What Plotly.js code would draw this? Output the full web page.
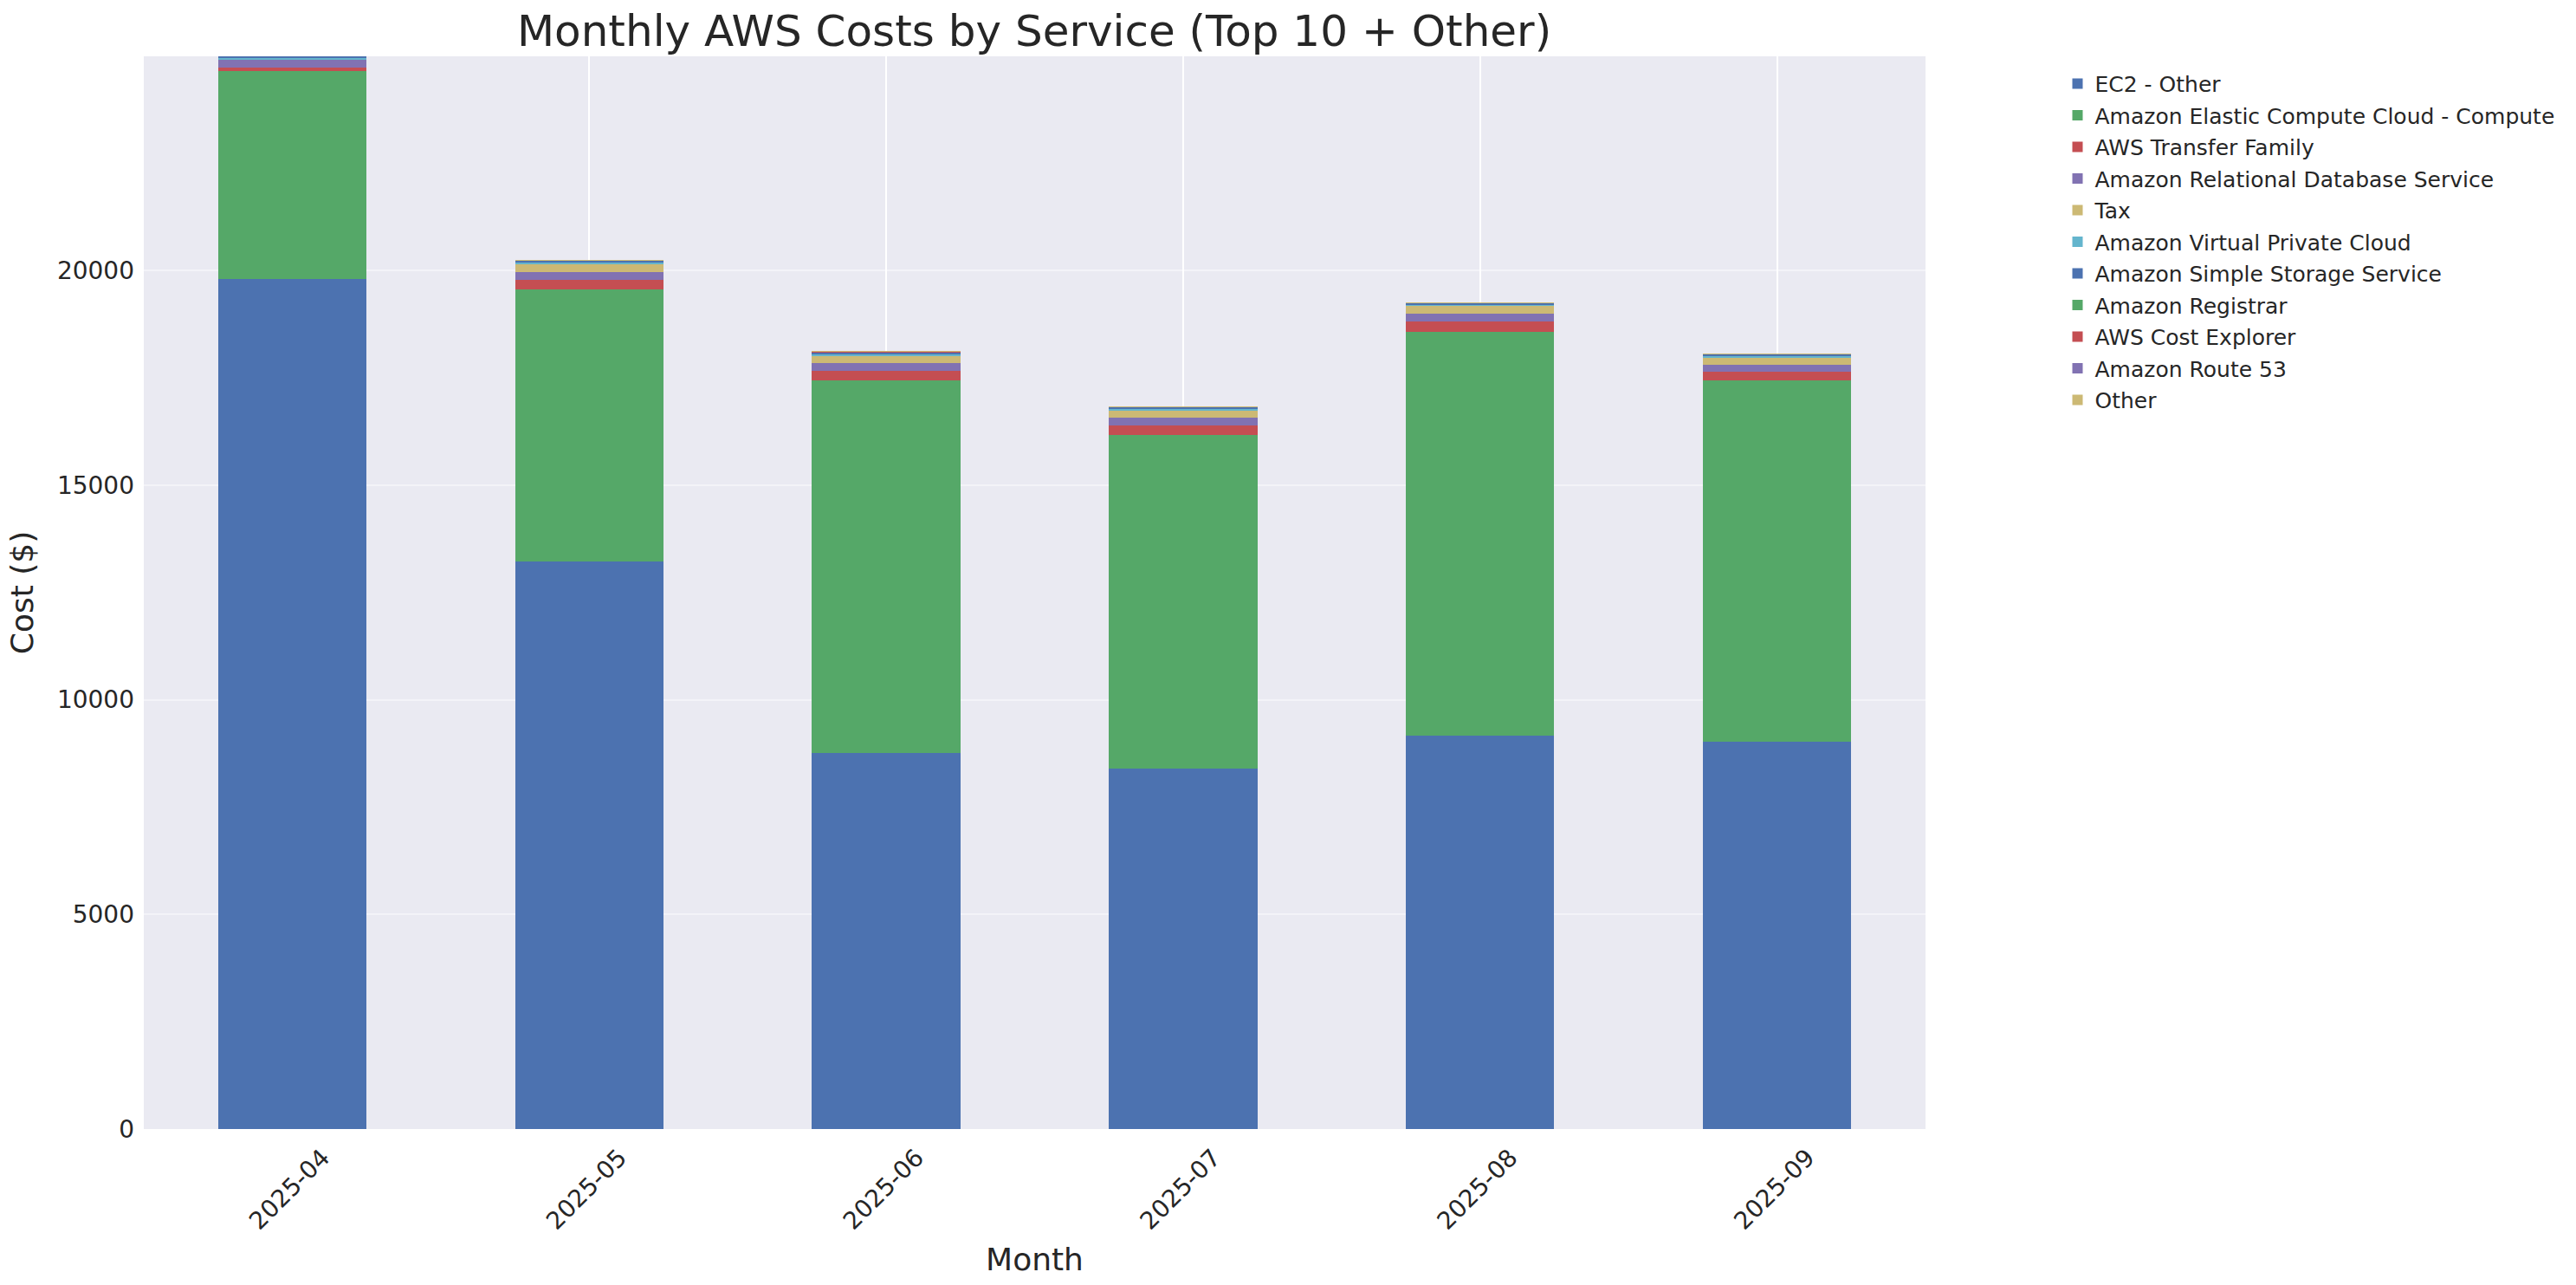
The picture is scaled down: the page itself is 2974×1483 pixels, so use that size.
<!DOCTYPE html>
<html>
<head>
<meta charset="utf-8">
<script src="https://cdn.plot.ly/plotly-3.0.1.min.js"></script>
<style>
  html, body { margin: 0; padding: 0; background: #fff; }
  #chart { width: 2974px; height: 1483px; }
</style>
</head>
<body>
<div id="chart"></div>
<script>
var months = ["2025-04", "2025-05", "2025-06", "2025-07", "2025-08", "2025-09"];

var ec2Other      = [19798, 13222, 8762, 8399, 9166, 9025];
var ec2Compute    = [4845, 6327, 8678, 7758, 9394, 8404];
var transferFam   = [81, 222, 222, 222, 242, 202];
var rdsCost       = [181, 182, 181, 182, 182, 162];
var taxCost       = [0, 202, 161, 182, 181, 181];
var vpcCost       = [41, 40, 41, 40, 41, 40];
var s3Cost        = [45, 40, 40, 40, 40, 40];
var registrarCost = [0, 0, 5, 0, 0, 0];
var costExplorer  = [0, 3, 15, 2, 3, 3];
var route53Cost   = [1, 1, 1, 1, 1, 1];
var otherCost     = [3, 4, 4, 4, 4, 4];

var serviceNames = ["EC2 - Other", "Amazon Elastic Compute Cloud - Compute", "AWS Transfer Family",
  "Amazon Relational Database Service", "Tax", "Amazon Virtual Private Cloud",
  "Amazon Simple Storage Service", "Amazon Registrar", "AWS Cost Explorer",
  "Amazon Route 53", "Other"];
var serviceValues = [ec2Other, ec2Compute, transferFam, rdsCost, taxCost, vpcCost,
  s3Cost, registrarCost, costExplorer, route53Cost, otherCost];

// seaborn "deep" palette, cycles after 6
var palette = ["#4C72B0", "#55A868", "#C44E52", "#8172B2", "#CCB974", "#64B5CD"];

var data = [];
for (var i = 0; i < serviceNames.length; i++) {
  data.push({
    x: months,
    y: serviceValues[i],
    name: serviceNames[i],
    type: 'bar',
    legendgroup: 'g' + i,
    marker: {color: palette[i % palette.length], line: {width: 0}}
  });
}

var txt = '#262626';
var layout = {
  width: 2974,
  height: 1483,
  barmode: 'stack',
  bargap: 0.5,
  paper_bgcolor: '#ffffff',
  plot_bgcolor: '#EAEAF2',
  font: {family: 'DejaVu Sans', color: txt},
  margin: {l: 166, r: 751, t: 65, b: 180},
  title: {
    text: 'Monthly AWS Costs by Service (Top 10 + Other)',
    font: {size: 50, color: txt},
    x: 0.4015, xanchor: 'center',
    y: 0.976, yref: 'container', yanchor: 'middle'
  },
  xaxis: {
    type: 'category',
    title: {text: 'Month', font: {size: 36, color: txt}, standoff: 16},
    tickangle: -45,
    tickfont: {size: 28, color: txt},
    ticklabelshift: 35,
    ticklabelstandoff: 10,
    showgrid: true,
    gridcolor: '#ffffff',
    gridwidth: 2,
    showline: false,
    zeroline: false,
    automargin: false
  },
  yaxis: {
    title: {text: 'Cost ($)', font: {size: 36, color: txt}, standoff: 16},
    range: [0, 24986],
    dtick: 5000,
    tickformat: 'd',
    tickfont: {size: 28, color: txt},
    ticklabelstandoff: 10,
    showgrid: true,
    gridcolor: 'rgba(255,255,255,0.45)',
    gridwidth: 2,
    zeroline: false,
    showline: false,
    automargin: false
  },
  legend: {
    x: 1.0756, xanchor: 'left',
    y: 0.993, yanchor: 'top',
    traceorder: 'grouped',
    tracegroupgap: 1,
    font: {size: 25, color: txt},
    bgcolor: 'rgba(0,0,0,0)'
  }
};

Plotly.newPlot('chart', data, layout, {displayModeBar: false});
</script>
</body>
</html>
